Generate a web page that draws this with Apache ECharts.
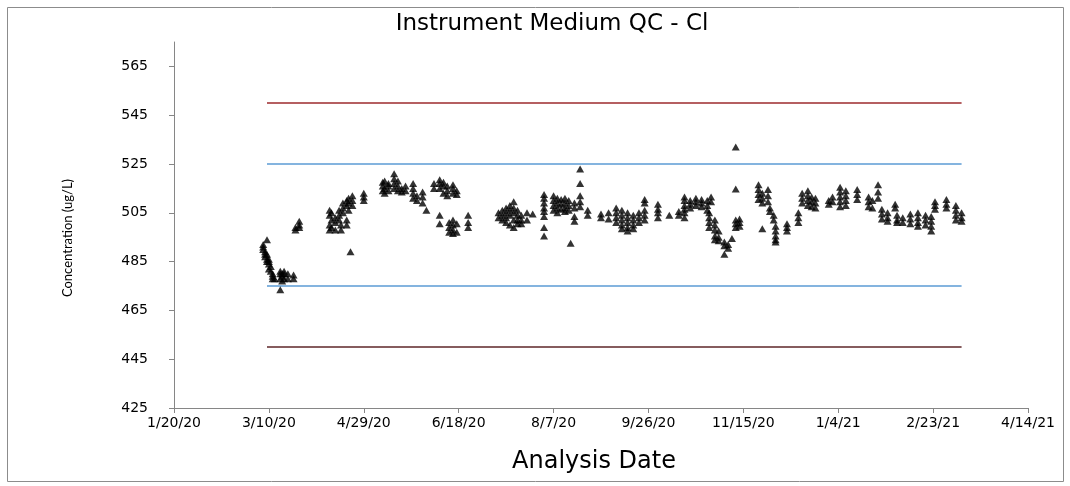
<!DOCTYPE html>
<html>
<head>
<meta charset="utf-8">
<script src="https://cdn.jsdelivr.net/npm/echarts@6/dist/echarts.min.js"></script>
<style>
  html, body { margin: 0; padding: 0; background: #fff; }
  #container { width: 1070px; height: 486px; }
</style>
</head>
<body>
<div id="container"></div>
<script>
// run dates (M/D/YY) and the results measured on each of them
const runDates = [
  "3/7/20", "3/8/20", "3/9/20", "3/10/20", "3/11/20", "3/12/20", "3/13/20",
  "3/16/20", "3/17/20", "3/18/20", "3/20/20", "3/23/20", "3/24/20", "3/26/20",
  "4/11/20", "4/12/20", "4/14/20", "4/16/20", "4/17/20", "4/18/20", "4/20/20", "4/21/20", "4/22/20", "4/23/20",
  "4/29/20", "5/9/20", "5/10/20", "5/12/20", "5/15/20", "5/17/20", "5/19/20", "5/21/20",
  "5/25/20", "5/27/20", "5/30/20", "6/1/20", "6/5/20",
  "6/8/20", "6/10/20", "6/12/20", "6/13/20", "6/15/20", "6/17/20", "6/23/20",
  "7/9/20", "7/11/20", "7/13/20", "7/15/20", "7/17/20", "7/19/20", "7/21/20", "7/24/20", "7/27/20",
  "8/2/20", "8/7/20", "8/9/20", "8/11/20", "8/13/20", "8/15/20", "8/16/20", "8/18/20", "8/21/20", "8/25/20",
  "9/1/20", "9/5/20", "9/9/20", "9/12/20", "9/15/20", "9/18/20", "9/21/20", "9/24/20",
  "10/1/20", "10/7/20", "10/12/20", "10/15/20", "10/18/20", "10/21/20", "10/24/20", "10/27/20", "10/28/20", "10/29/20",
  "10/31/20", "11/2/20", "11/5/20", "11/7/20", "11/9/20", "11/11/20", "11/13/20",
  "11/23/20", "11/25/20", "11/28/20", "11/29/20", "12/1/20", "12/2/20", "12/8/20", "12/14/20",
  "12/16/20", "12/19/20", "12/21/20", "12/23/20", "12/30/20",
  "1/1/21", "1/5/21", "1/8/21", "1/14/21", "1/20/21", "1/22/21", "1/25/21", "1/27/21", "1/30/21",
  "2/3/21", "2/4/21", "2/7/21", "2/11/21", "2/15/21", "2/19/21", "2/22/21", "2/24/21",
  "3/2/21", "3/7/21", "3/10/21"
];

const runValues = [
  [492, 491, 490], [489, 488, 487], [488, 486, 485, 494], [486, 485, 484, 482], [483, 481], [480, 479, 478], [478],
  [473.5, 478, 480, 481], [477, 479, 480], [478, 480, 481], [478, 480], [478, 479.5], [498, 499], [499, 500, 501.5],
  [506, 504, 500, 498], [505, 502, 499], [501, 503, 498], [504, 506, 502], [500, 498], [507, 509, 505], [510, 508, 502, 500], [511, 509, 506], [489], [512, 510, 508],
  [510, 511.5, 513], [514, 516, 517.5], [513, 515, 518], [514, 516, 517], [515, 517, 519, 521], [514, 516, 518], [513.5, 515], [514, 516],
  [511, 513, 515, 517], [510, 512], [509, 511.5, 513.5], [506], [515, 517],
  [515, 517, 518.5, 504, 500.5], [513, 516, 517.5], [512, 514, 516], [501, 499, 497], [513, 515, 516.5, 502, 500, 498, 496.5], [512.5, 514, 500.5, 497], [504, 501, 499],
  [505, 503], [506, 504, 502], [507, 505, 503, 501], [508, 506, 504, 500], [509.5, 507, 505, 502, 499], [506, 504, 502, 500.5], [504, 502, 500.5], [505, 502], [504.5],
  [512.5, 511, 509, 507, 505.5, 503.5, 499, 495.5], [512, 510, 508, 506], [511, 509, 507, 505], [510.5, 508.5, 506.5], [511, 509, 507, 505.5], [510, 508, 506], [492.5], [509, 507, 503.5, 501.5], [523, 517, 512, 509.5, 507.5], [506, 504],
  [504.5, 503], [505, 502.5], [507, 505, 503, 501], [506, 504, 502, 500, 498.5], [505, 503, 501, 499, 497.5], [504, 502, 500, 498.5], [505, 503, 501], [506, 504, 502, 510.5, 509],
  [508.5, 506.5, 505, 503], [504], [504, 505.5], [511.5, 510, 508, 506.5, 505, 503], [510, 508.5, 507], [511, 509.5, 508], [510.5, 509, 507.5], [510, 508, 506], [505, 503, 501, 499], [511.5, 509.5],
  [502, 500, 498, 495.5, 494], [497.5, 495, 493.5], [493, 491.5, 488], [492, 490.5], [494.5], [532, 514.8, 499, 500.5, 502], [499.5, 501, 502.5],
  [516.5, 514.5, 512.5, 510.5], [513, 511, 509, 498.5], [514.5, 512, 509.5], [507, 505.5], [504, 502], [499.5, 497.5, 495.5, 494, 493], [500.5, 499, 497.5], [505, 503, 501],
  [513, 511, 509], [514, 512, 510, 508], [511.5, 509.5, 507.5], [511, 509, 507], [510, 508.5],
  [511.5, 509.5], [515.5, 513.5, 511.5, 509.5, 507.5], [514, 512, 510, 508], [514.5, 512.5, 510.5], [511.5, 509.5, 507.5], [510, 507], [513.5, 511, 516.5], [506.5, 504.5, 502.5], [505, 503, 501.5],
  [508.5, 507], [504, 502, 501], [503, 501], [504.5, 502.5, 500.5], [505, 503, 501, 499.5], [504, 502, 500], [503.5, 501.5, 499.5, 497.5], [506.5, 508, 509.5],
  [510.5, 508.5, 507], [508, 506, 504, 502], [505, 503, 501.5]
];

// control limits (warning = blue, action = red/brown)
const limitValues = [550, 525, 475, 450];
const limitColors = ["#9c2a2c", "#5b9bd5", "#5b9bd5", "#5e2628"];
const limitStart = "3/9/20";
const limitEnd = "3/10/21";

// x axis in Excel date serials: 1/20/20 .. 4/14/21, every 50 days
const xMin = 43850;
const xMax = 44300;
const xStep = 50;
const yTicks = [425, 445, 465, 485, 505, 525, 545, 565];

function toSerial(s) {
  const [m, d, y] = s.split("/").map(Number);
  return Date.UTC(2000 + y, m - 1, d) / 86400000 + 25569;
}

function fromSerial(n) {
  const dt = new Date((n - 25569) * 86400000);
  return (dt.getUTCMonth() + 1) + "/" + dt.getUTCDate() + "/" + String(dt.getUTCFullYear()).slice(2);
}

const points = [];
runDates.forEach((d, i) => {
  runValues[i].forEach((v) => points.push([toSerial(d), v]));
});

const limitSeries = limitValues.map((v, i) => ({
  type: "line",
  silent: true,
  showSymbol: false,
  symbol: "none",
  data: [[toSerial(limitStart), v], [toSerial(limitEnd), v]],
  lineStyle: { color: limitColors[i], width: 1.5 },
  z: 1,
}));

const dom = document.getElementById("container");
const myChart = echarts.init(dom, null, { renderer: "canvas" });

const labelFont = "'DejaVu Sans', Verdana, sans-serif";
const textFont = "Lato, sans-serif";

const option = {
  animation: false,
  backgroundColor: "#fff",
  title: {
    text: "Instrument Medium QC - Cl",
    left: 547,
    textAlign: "center",
    top: 8,
    textStyle: { fontFamily: labelFont, fontSize: 23, fontWeight: "normal", color: "#000" },
  },
  graphic: [
    {
      type: "rect",
      shape: { x: 7.5, y: 7.5, width: 1056, height: 474 },
      style: { fill: "none", stroke: "#8c8c8c", lineWidth: 1 },
      silent: true,
    },
    {
      type: "text",
      x: 68,
      y: 238,
      rotation: Math.PI / 2,
      style: {
        text: "Concentration (ug/L)",
        fontFamily: textFont,
        fontSize: 13,
        fill: "#000",
        align: "center",
        verticalAlign: "middle",
      },
      silent: true,
    },
  ],
  grid: { left: 174, right: 42, top: 42, bottom: 78 },
  xAxis: {
    type: "value",
    min: xMin,
    max: xMax,
    interval: xStep,
    name: "Analysis Date",
    nameLocation: "middle",
    nameGap: 42,
    nameTextStyle: { fontFamily: labelFont, fontSize: 24, color: "#000", padding: [0, 14, 0, 0] },
    splitLine: { show: false },
    axisLine: { lineStyle: { color: "#868686" } },
    axisTick: { show: true, length: 5, lineStyle: { color: "#868686" } },
    axisLabel: {
      fontFamily: labelFont, fontSize: 14, color: "#000", margin: 8,
      formatter: (v) => fromSerial(v),
    },
  },
  yAxis: {
    type: "value",
    min: 425,
    max: 575,
    splitLine: { show: false },
    axisLine: { show: true, lineStyle: { color: "#868686" } },
    axisTick: { show: true, length: 5, lineStyle: { color: "#868686" }, customValues: yTicks },
    axisLabel: {
      fontFamily: labelFont, fontSize: 14, color: "#000", margin: 26,
      customValues: yTicks,
    },
  },
  series: [
    ...limitSeries,
    {
      type: "scatter",
      symbol: "triangle",
      symbolSize: [8, 7],
      itemStyle: { color: "#000" },
      data: points,
      z: 3,
    },
  ],
};

myChart.setOption(option);
</script>
</body>
</html>
